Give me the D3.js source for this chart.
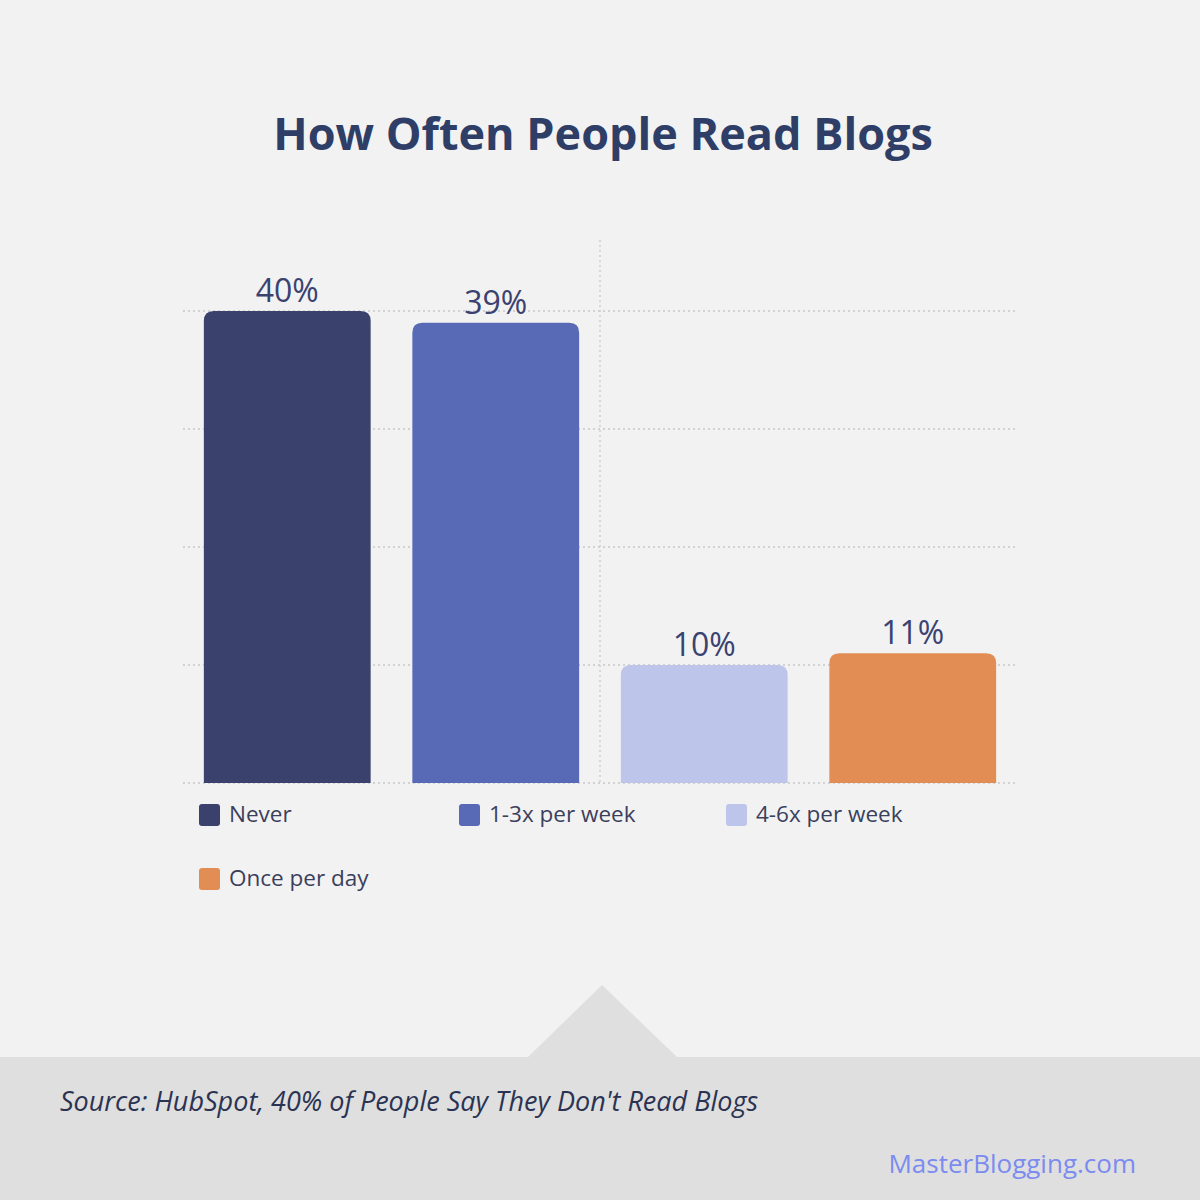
<!DOCTYPE html>
<html><head><meta charset="utf-8">
<script src="https://cdn.jsdelivr.net/npm/d3@7"></script>
<style>html,body{margin:0;padding:0;background:#f2f2f2;}svg{display:block;}</style>
</head><body>
<script>
const categories = ["Never", "1-3x per week", "4-6x per week", "Once per day"];
const values = [40, 39, 10, 11];
const colors = ["#3a416d", "#5869b5", "#bec5eb", "#e28d53"];
const yTicks = [0, 10, 20, 30, 40];
const titleText = "How Often People Read Blogs";
const sourceText = "Source: HubSpot, 40% of People Say They Don't Read Blogs";
const brandText = "MasterBlogging.com";

const W = 1200, H = 1200;
const svg = d3.select("body").append("svg").attr("width", W).attr("height", H);
svg.append("rect").attr("width", W).attr("height", H).attr("fill", "#f2f2f2");

// footer
svg.append("rect").attr("x", 0).attr("y", 1057).attr("width", W).attr("height", H - 1057).attr("fill", "#dfdfdf");
svg.append("path").attr("d", "M527,1058 L602,985 L678,1058 Z").attr("fill", "#dfdfdf");
svg.append("text").attr("x", 60).attr("y", 1111).text(sourceText)
  .attr("font-family", "Open Sans").attr("font-style", "italic").attr("font-size", 27).attr("fill", "#2b3352");
svg.append("text").attr("x", 1136).attr("y", 1173).attr("text-anchor", "end").text(brandText)
  .attr("font-family", "Open Sans").attr("font-size", 26).attr("fill", "#7b8bef");

// title
svg.append("text").attr("x", 603).attr("y", 150).attr("text-anchor", "middle").text(titleText)
  .attr("font-family", "Open Sans").attr("font-weight", "bold").attr("font-size", 45).attr("fill", "#2f3e66");

const left = 183, right = 1017, bottom = 783;
const x = d3.scaleBand().domain(categories).range([left, right]).paddingInner(0.2).paddingOuter(0.1);
const y = d3.scaleLinear().domain([0, 10]).range([bottom, bottom - 118]);

// grid
const g = svg.append("g");
g.selectAll("line.h").data(yTicks).join("line")
  .attr("x1", left).attr("x2", 1015).attr("y1", d => y(d)).attr("y2", d => y(d))
  .attr("stroke", "#c8c8c8").attr("stroke-width", 1.5).attr("stroke-dasharray", "2,3");
g.append("line").attr("x1", 600).attr("x2", 600).attr("y1", 240).attr("y2", bottom)
  .attr("stroke", "#cfcfcf").attr("stroke-width", 1.5).attr("stroke-dasharray", "2,3");

// bars with rounded top corners
const r = 10;
function barPath(x0, y0, w, h) {
  return `M${x0},${y0 + h} L${x0},${y0 + r} Q${x0},${y0} ${x0 + r},${y0} L${x0 + w - r},${y0} Q${x0 + w},${y0} ${x0 + w},${y0 + r} L${x0 + w},${y0 + h} Z`;
}
svg.selectAll("path.bar").data(categories).join("path").attr("class", "bar")
  .attr("d", (d, i) => barPath(x(d), y(values[i]), x.bandwidth(), bottom - y(values[i])))
  .attr("fill", (d, i) => colors[i]);

svg.selectAll("text.val").data(categories).join("text")
  .attr("x", d => x(d) + x.bandwidth() / 2).attr("y", (d, i) => y(values[i]) - 9)
  .attr("text-anchor", "middle").text((d, i) => values[i] + "%")
  .attr("font-family", "Open Sans").attr("font-size", 32).attr("fill", "#3a4270");

// legend
const legPos = [[199, 804], [459, 804], [726, 804], [199, 868]];
const leg = svg.selectAll("g.leg").data(categories).join("g")
  .attr("transform", (d, i) => `translate(${legPos[i][0]},${legPos[i][1]})`);
leg.append("rect").attr("width", 21).attr("height", 22).attr("rx", 3).attr("fill", (d, i) => colors[i]);
leg.append("text").attr("x", 30).attr("y", 18).text(d => d)
  .attr("font-family", "Open Sans").attr("font-size", 22.5).attr("fill", "#3a3f5c");
</script>
</body></html>
